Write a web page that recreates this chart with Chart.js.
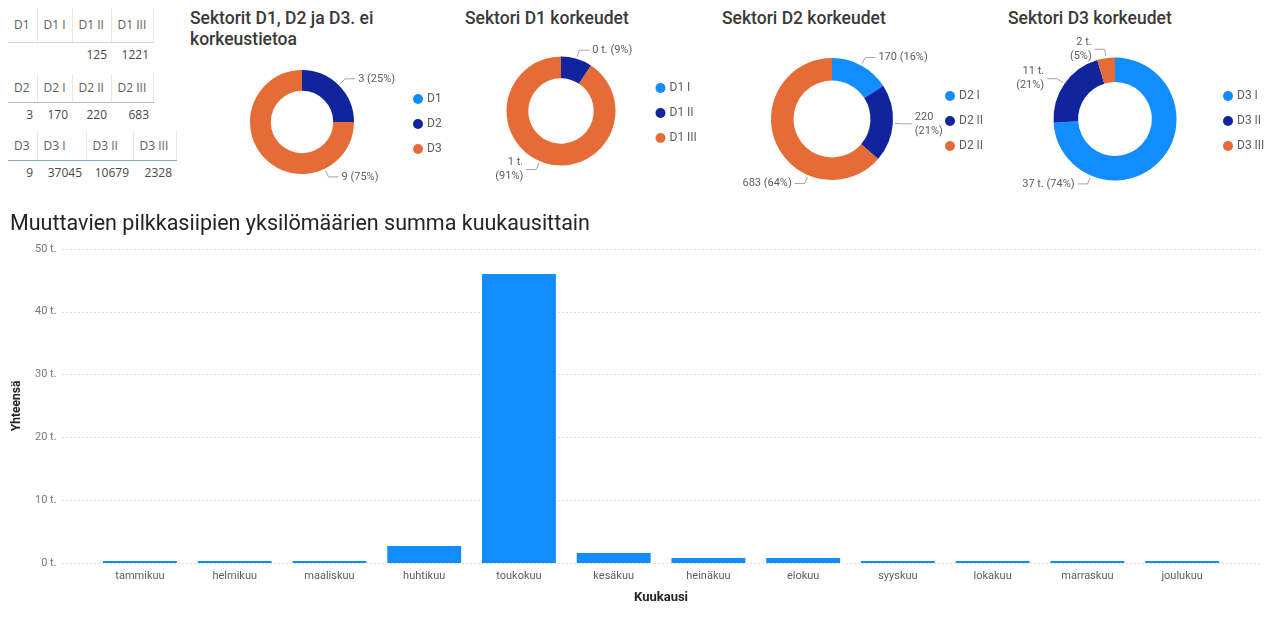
<!DOCTYPE html>
<html><head><meta charset="utf-8">
<script src="https://cdn.jsdelivr.net/npm/chart.js@4.4.1/dist/chart.umd.min.js"></script>
<style>
html,body{margin:0;padding:0;background:#fff;}
body{width:1272px;height:629px;position:relative;overflow:hidden;font-family:"Open Sans",sans-serif;}
.tbl{position:absolute;left:8px;border-collapse:collapse;table-layout:fixed;font-size:12px;color:#605E5C;}
.tbl td{padding:0;white-space:nowrap;overflow:hidden;}
.tbl tr.h td{text-align:left;padding-left:6px;border-right:1px solid #ebe9e7;}
.tbl tr.v td{text-align:right;padding-right:4px;color:#4a4846;}
.ttl{position:absolute;font-family:Roboto,sans-serif;font-weight:500;font-size:17.5px;line-height:21px;color:#3a3938;}
canvas{position:absolute;}
</style></head>
<body>
<table class="tbl" id="t1" style="top:8px"></table>
<table class="tbl" id="t2" style="top:74px"></table>
<table class="tbl" id="t3" style="top:131px"></table>

<div class="ttl" style="left:190px;top:8px;width:200px">Sektorit D1, D2 ja D3. ei<br>korkeustietoa</div>
<div class="ttl" style="left:465px;top:8px">Sektori D1 korkeudet</div>
<div class="ttl" style="left:722px;top:8px">Sektori D2 korkeudet</div>
<div class="ttl" style="left:1008px;top:8px">Sektori D3 korkeudet</div>

<canvas id="c0" width="300" height="190" style="left:152px;top:27px"></canvas>
<canvas id="c1" width="300" height="190" style="left:411px;top:16px"></canvas>
<canvas id="c2" width="300" height="190" style="left:682px;top:24px"></canvas>
<canvas id="c3" width="300" height="190" style="left:965px;top:24px"></canvas>
<canvas id="bar" width="1272" height="410" style="left:0;top:206px"></canvas>

<script>
// ---------- DATA ----------
const tableD1Headers = ["D1", "D1 I", "D1 II", "D1 III"];
const tableD1Values  = [null, null, 125, 1221];
const tableD2Headers = ["D2", "D2 I", "D2 II", "D2 III"];
const tableD2Values  = [3, 170, 220, 683];
const tableD3Headers = ["D3", "D3 I", "D3 II", "D3 III"];
const tableD3Values  = [9, 37045, 10679, 2328];

const sectorLabels = ["D1", "D2", "D3"];
const sectorNoHeight = [tableD1Values[0] || 0, tableD2Values[0] || 0, tableD3Values[0] || 0];
const d1Labels = ["D1 I", "D1 II", "D1 III"];
const d1Values = tableD1Values.slice(1).map(v => v || 0);
const d2Labels = ["D2 I", "D2 II", "D2 III"];
const d2Values = tableD2Values.slice(1);
const d3Labels = ["D3 I", "D3 II", "D3 III"];
const d3Values = tableD3Values.slice(1);

const months = ["tammikuu","helmikuu","maaliskuu","huhtikuu","toukokuu","kesäkuu","heinäkuu","elokuu","syyskuu","lokakuu","marraskuu","joulukuu"];
const monthTotals = [300, 300, 300, 2700, 46000, 1600, 800, 800, 300, 300, 300, 300];

// ---------- TABLES ----------
function buildTable(id, headers, values, widths, lineColor) {
  const t = document.getElementById(id);
  const cg = document.createElement('colgroup');
  widths.forEach(w => { const c = document.createElement('col'); c.style.width = w + 'px'; cg.appendChild(c); });
  t.appendChild(cg);
  t.style.width = widths.reduce((a, b) => a + b, 0) + 'px';
  const h = document.createElement('tr'); h.className = 'h';
  h.style.height = (id === 't1' ? 34 : id === 't2' ? 28 : 29) + 'px';
  headers.forEach(x => { const td = document.createElement('td'); td.textContent = x; td.style.borderBottom = '1px solid ' + lineColor; h.appendChild(td); });
  const v = document.createElement('tr'); v.className = 'v'; v.style.height = '24px';
  values.forEach(x => { const td = document.createElement('td'); td.textContent = x == null ? '' : x; v.appendChild(td); });
  t.appendChild(h); t.appendChild(v);
}
buildTable('t1', tableD1Headers, tableD1Values, [29, 35, 39, 42], '#c9d9e8');
buildTable('t2', tableD2Headers, tableD2Values, [29, 35, 39, 42], '#a9c3dc');
buildTable('t3', tableD3Headers, tableD3Values, [29, 49, 47, 43], '#86a9ca');

// ---------- DONUTS ----------
const COLORS = ['#118DFF', '#12239E', '#E66C37'];
const FONT = 'Roboto, sans-serif';

const donutPlugin = {
  id: 'donutDecor',
  afterDraw(chart, args, o) {
    const ctx = chart.ctx;
    const ds = chart.data.datasets[0];
    const meta = chart.getDatasetMeta(0);
    const total = ds.data.reduce((a, b) => a + (b || 0), 0);
    let cx = 0, cy = 0;
    ctx.save();
    meta.data.forEach((arc, i) => {
      const p = arc.getProps(['x', 'y', 'startAngle', 'endAngle', 'outerRadius'], true);
      cx = p.x; cy = p.y;
      const v = ds.data[i];
      if (!v) return;
      let a = (p.startAngle + p.endAngle) / 2;
      if (v / total > 0.5) {
        const b = Math.PI / 2 + o.bigSliceTilt;
        if (b > p.startAngle && b < p.endAngle) a = b;
      }
      const cos = Math.cos(a), sin = Math.sin(a), R = p.outerRadius;
      const x0 = p.x + cos * (R + 2), y0 = p.y + sin * (R + 2);
      const x1 = p.x + cos * (R + 9), y1 = p.y + sin * (R + 9);
      const right = cos >= 0;
      const x2 = x1 + (right ? 10 : -10);
      ctx.strokeStyle = '#a8a6a4'; ctx.lineWidth = 1;
      ctx.beginPath(); ctx.moveTo(x0, y0); ctx.lineTo(x1, y1); ctx.lineTo(x2, y1); ctx.stroke();
      const num = o.thousands ? Math.round(v / 1000) + ' t.' : String(v);
      const pct = '(' + Math.round(v / total * 100) + '%)';
      ctx.fillStyle = '#605E5C';
      ctx.font = '11px ' + FONT;
      ctx.textBaseline = 'middle';
      ctx.textAlign = right ? 'left' : 'right';
      const tx = x2 + (right ? 3 : -3);
      if (o.wrap.includes(i)) {
        ctx.fillText(num, tx, y1 - 7);
        ctx.fillText(pct, tx, y1 + 7);
      } else {
        ctx.fillText(num + ' ' + pct, tx, y1);
      }
    });
    // legend
    chart.data.labels.forEach((lab, i) => {
      const lx = cx + o.legendDx, ly = cy + 2 + (i - 1) * 25;
      ctx.fillStyle = COLORS[i];
      ctx.beginPath(); ctx.arc(lx, ly, 5, 0, Math.PI * 2); ctx.fill();
      ctx.fillStyle = '#605E5C';
      ctx.font = '12px ' + FONT;
      ctx.textAlign = 'left'; ctx.textBaseline = 'middle';
      ctx.fillText(lab, lx + 9, ly);
    });
    ctx.restore();
  }
};

function donut(id, labels, values, R, cut, decor) {
  new Chart(document.getElementById(id), {
    type: 'doughnut',
    data: { labels, datasets: [{ data: values, backgroundColor: COLORS, borderWidth: 0 }] },
    options: {
      responsive: false, animation: false, radius: R, cutout: cut,
      plugins: { legend: { display: false }, tooltip: { enabled: false }, donutDecor: decor }
    },
    plugins: [donutPlugin]
  });
}
donut('c0', sectorLabels, sectorNoHeight, 52, '60%', { thousands: false, wrap: [], legendDx: 116, bigSliceTilt: -0.45 });
donut('c1', d1Labels, d1Values, 54.5, '60%', { thousands: true, wrap: [2], legendDx: 99.5, bigSliceTilt: 0.4 });
donut('c2', d2Labels, d2Values, 61, '63%', { thousands: false, wrap: [1], legendDx: 118, bigSliceTilt: 0.4 });
donut('c3', d3Labels, d3Values, 61.5, '60%', { thousands: true, wrap: [1, 2], legendDx: 113, bigSliceTilt: 0.4 });

// ---------- BAR ----------
const gridPlugin = {
  id: 'extGrid',
  beforeDatasetsDraw(chart) {
    const { ctx, chartArea } = chart;
    const ys = chart.scales.y;
    ctx.save();
    ctx.strokeStyle = '#c4c4c4'; ctx.lineWidth = 1; ctx.setLineDash([1, 3]);
    ys.ticks.forEach(t => {
      const y = Math.round(ys.getPixelForValue(t.value)) + 0.5;
      ctx.beginPath(); ctx.moveTo(chartArea.left - 30, y); ctx.lineTo(chartArea.right + 33, y); ctx.stroke();
    });
    ctx.restore();
  }
};

new Chart(document.getElementById('bar'), {
  type: 'bar',
  data: { labels: months, datasets: [{ data: monthTotals, backgroundColor: '#118DFF', barPercentage: 0.78, categoryPercentage: 1, minBarLength: 2 }] },
  options: {
    responsive: false, animation: false,
    layout: { padding: { left: 10, right: 42.5, top: 0, bottom: 10.2 } },
    plugins: {
      legend: { display: false }, tooltip: { enabled: false },
      title: { display: true, text: 'Muuttavien pilkkasiipien yksilömäärien summa kuukausittain', align: 'start',
        color: '#252423', font: { family: FONT, size: 21.5, weight: 'normal' }, padding: { top: 6, bottom: 11 } }
    },
    scales: {
      x: {
        grid: { display: false, drawTicks: false }, border: { display: false },
        ticks: { color: '#605E5C', font: { family: FONT, size: 11 }, padding: 7, maxRotation: 0, autoSkip: false },
        title: { display: true, text: 'Kuukausi', color: '#252423', font: { family: FONT, size: 13, weight: 'bold' }, padding: { top: 0, bottom: 0 } }
      },
      y: {
        min: 0, max: 50000,
        grid: { display: false, drawTicks: false }, border: { display: false },
        ticks: { stepSize: 10000, callback: v => (v / 1000) + ' t.', color: '#7a7876', font: { family: FONT, size: 11 }, padding: 36 },
        title: { display: true, text: 'Yhteensä', color: '#252423', font: { family: FONT, size: 12, weight: 'bold' }, padding: 0 },
        afterFit(s) { s.width = 82.6; }
      }
    }
  },
  plugins: [gridPlugin]
});
</script>
</body></html>
